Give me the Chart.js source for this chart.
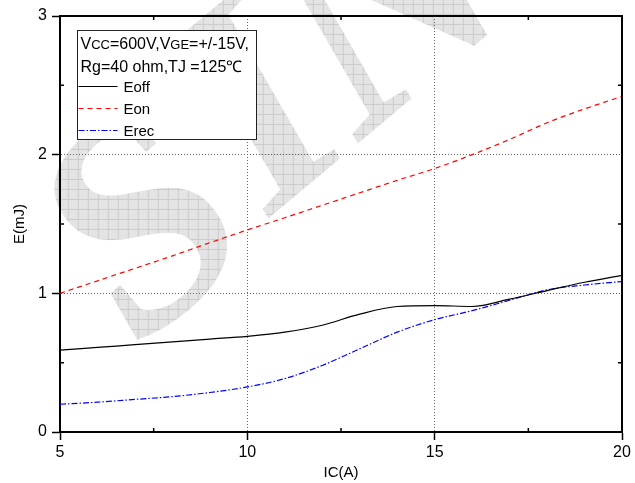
<!DOCTYPE html>
<html>
<head>
<meta charset="utf-8">
<script src="https://cdn.jsdelivr.net/npm/chart.js@4.4.0/dist/chart.umd.min.js"></script>
<style>
  html, body { margin: 0; padding: 0; background: #fff; }
  #wrap { width: 635px; height: 483px; }
</style>
</head>
<body>
<div id="wrap"><canvas id="lossChart"></canvas></div>
<script>
// collector current IC (A) and switching energies (mJ)
const icValues = [5, 6, 7, 8, 9, 10, 11, 12, 13, 14, 15, 16, 17, 18, 19, 20];
const eoffValues = [0.59, 0.61, 0.63, 0.65, 0.67, 0.69, 0.72, 0.77, 0.85, 0.905, 0.912, 0.905, 0.958, 1.02, 1.08, 1.13];
const eonValues = [1.0, 1.09, 1.18, 1.27, 1.365, 1.457, 1.545, 1.635, 1.725, 1.815, 1.9, 2.0, 2.11, 2.23, 2.33, 2.42];
const erecValues = [0.2, 0.215, 0.235, 0.255, 0.285, 0.325, 0.385, 0.48, 0.6, 0.72, 0.81, 0.875, 0.95, 1.025, 1.06, 1.085];

const xMinorTicks = [7.5, 12.5, 17.5];
const yMinorTicks = [0.5, 1.5, 2.5];

const seriesNames = ["Eoff", "Eon", "Erec"];
const conditionLine1 = [["V", 16], ["CC", 13], ["=600V,V", 16], ["GE", 13], ["=+/-15V,", 16]];
const conditionLine2 = "Rg=40 ohm,TJ =125\u2103";
const watermarkText = "SIN";

const FONT = "'Liberation Sans', Arial, sans-serif";

const toPoints = (vals) => vals.map((v, i) => ({ x: icValues[i], y: v }));

// light crosshatch used for the watermark letters
function hatchPattern(ctx, angleDeg) {
  const tile = document.createElement("canvas");
  tile.width = 10;
  tile.height = 10;
  const t = tile.getContext("2d");
  t.fillStyle = "#e4e4e4";
  t.fillRect(0, 0, 10, 10);
  t.fillStyle = "#cbcbcb";
  t.fillRect(0, 0, 10, 1);
  t.fillRect(0, 0, 1, 10);
  const p = ctx.createPattern(tile, "repeat");
  p.setTransform(new DOMMatrix().rotateSelf(angleDeg));
  return p;
}

// big grey diagonal lettering behind the plot
const watermarkPlugin = {
  id: "watermark",
  beforeDraw(chart) {
    const { ctx } = chart;
    const ang = 40 * Math.PI / 180;
    ctx.save();
    ctx.font = "italic bold 300px 'Liberation Serif', 'DejaVu Serif', serif";
    ctx.textBaseline = "alphabetic";
    const first = watermarkText.slice(0, 1);
    const rest = watermarkText.slice(1);
    const wS = ctx.measureText(first).width;
    const wI = ctx.measureText(rest.slice(0, 1)).width;
    const d = wS + wI / 2 - 20;
    const ox = 300 - d * Math.cos(ang);
    const oy = 192 + d * Math.sin(ang);
    const fill = hatchPattern(ctx, 40);

    ctx.save();
    ctx.translate(ox - 5, oy + 25);
    ctx.rotate(-ang);
    ctx.fillStyle = fill;
    ctx.fillText(first, 0, 0);
    ctx.restore();

    ctx.save();
    ctx.translate(ox, oy);
    ctx.rotate(-ang);
    ctx.fillStyle = fill;
    ctx.fillText(rest, wS, 0);
    ctx.restore();

    ctx.restore();
  },
};

const framePlugin = {
  id: "frame",
  afterDraw(chart) {
    const { ctx, chartArea: a, scales } = chart;
    const x = scales.x;
    const y = scales.y;
    ctx.save();

    // top and right edges of the box
    ctx.strokeStyle = "#000";
    ctx.lineWidth = 2;
    ctx.beginPath();
    ctx.moveTo(a.left - 1, a.top);
    ctx.lineTo(a.right, a.top);
    ctx.lineTo(a.right, a.bottom + 1);
    ctx.stroke();

    // minor ticks, pointing inwards
    ctx.lineWidth = 1.5;
    ctx.beginPath();
    xMinorTicks.forEach((v) => {
      const px = x.getPixelForValue(v);
      ctx.moveTo(px, a.bottom);
      ctx.lineTo(px, a.bottom - 4);
      ctx.moveTo(px, a.top);
      ctx.lineTo(px, a.top + 4);
    });
    yMinorTicks.forEach((v) => {
      const py = y.getPixelForValue(v);
      ctx.moveTo(a.left, py);
      ctx.lineTo(a.left + 4, py);
      ctx.moveTo(a.right, py);
      ctx.lineTo(a.right - 4, py);
    });
    ctx.stroke();

    // legend box
    const bx = a.left + 17.5;
    const by = a.top + 14.5;
    const bw = 179;
    const bh = 109;
    ctx.fillStyle = "#fff";
    ctx.fillRect(bx, by, bw, bh);
    ctx.strokeStyle = "#222";
    ctx.lineWidth = 1;
    ctx.strokeRect(bx, by, bw, bh);

    ctx.fillStyle = "#000";
    ctx.textBaseline = "alphabetic";
    ctx.textAlign = "left";
    let tx = bx + 3;
    conditionLine1.forEach(([txt, size]) => {
      ctx.font = size + "px " + FONT;
      ctx.fillText(txt, tx, by + 18);
      tx += ctx.measureText(txt).width;
    });
    ctx.font = "16px " + FONT;
    ctx.fillText(conditionLine2, bx + 3, by + 41.5);

    ctx.font = "15px " + FONT;
    chart.data.datasets.forEach((ds, i) => {
      const ly = by + 56 + i * 22;
      ctx.save();
      ctx.strokeStyle = ds.borderColor;
      ctx.lineWidth = ds.borderWidth;
      ctx.setLineDash(ds.borderDash || []);
      ctx.beginPath();
      ctx.moveTo(bx + 1, ly);
      ctx.lineTo(bx + 40, ly);
      ctx.stroke();
      ctx.restore();
      ctx.fillText(seriesNames[i], bx + 46, ly + 5.5);
    });

    ctx.restore();
  },
};

const axisCommon = {
  type: "linear",
  grid: {
    color: "#666",
    lineWidth: 1,
    tickLength: 8,
    tickColor: "#000",
    tickWidth: 1.5,
  },
  border: { display: true, color: "#000", width: 2, dash: [1, 2] },
};

const ctx = document.getElementById("lossChart").getContext("2d");
new Chart(ctx, {
  type: "line",
  data: {
    datasets: [
      {
        label: seriesNames[0],
        data: toPoints(eoffValues),
        borderColor: "#000000",
        borderWidth: 1.2,
        pointRadius: 0,
        cubicInterpolationMode: "monotone",
      },
      {
        label: seriesNames[1],
        data: toPoints(eonValues),
        borderColor: "#ff0000",
        borderWidth: 1.2,
        borderDash: [5, 4],
        pointRadius: 0,
        cubicInterpolationMode: "monotone",
      },
      {
        label: seriesNames[2],
        data: toPoints(erecValues),
        borderColor: "#0000ff",
        borderWidth: 1.2,
        borderDash: [6, 2, 1.5, 2],
        pointRadius: 0,
        cubicInterpolationMode: "monotone",
      },
    ],
  },
  options: {
    responsive: true,
    maintainAspectRatio: false,
    animation: false,
    layout: { padding: { top: 16, right: 13, left: 0, bottom: 0 } },
    plugins: {
      legend: { display: false },
      tooltip: { enabled: false },
    },
    scales: {
      x: {
        ...axisCommon,
        min: 5,
        max: 20,
        afterFit: (s) => { s.height = 51; },
        ticks: {
          stepSize: 5,
          padding: 3,
          color: "#000",
          font: { family: FONT, size: 16 },
          maxRotation: 0,
        },
        title: {
          display: true,
          text: "IC(A)",
          color: "#000",
          font: { family: FONT, size: 15 },
          padding: { top: 0, bottom: 1 },
        },
      },
      y: {
        ...axisCommon,
        min: 0,
        max: 3,
        afterFit: (s) => { s.width = 60; },
        ticks: {
          stepSize: 1,
          padding: 5,
          color: "#000",
          font: { family: FONT, size: 16 },
        },
        title: {
          display: true,
          text: "E(mJ)",
          color: "#000",
          font: { family: FONT, size: 15 },
          padding: { top: 11, bottom: 0 },
        },
      },
    },
  },
  plugins: [watermarkPlugin, framePlugin],
});
</script>
</body>
</html>
